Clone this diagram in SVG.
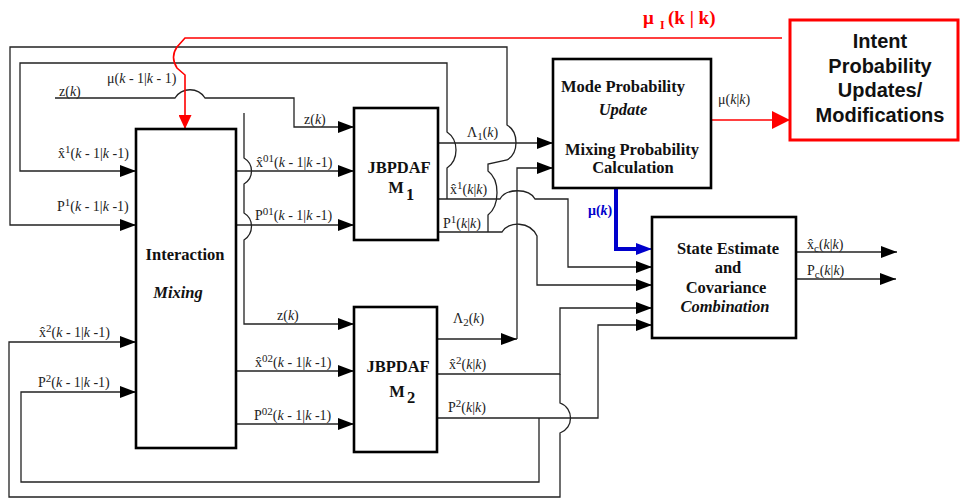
<svg xmlns="http://www.w3.org/2000/svg" width="960" height="498" viewBox="0 0 960 498">
<style>
.box{fill:#fff;stroke:#000;stroke-width:2.6}
.w{fill:none;stroke:#222;stroke-width:1.3}
.a{marker-end:url(#ab)}
.red{fill:none;stroke:#f00;stroke-width:1.6}
.blue{fill:none;stroke:#0000cc;stroke-width:4}
.bt{font-family:"Liberation Serif","Times New Roman",serif;font-weight:bold;font-size:16.5px;fill:#111;text-anchor:middle}
.lb{font-family:"Liberation Serif","Times New Roman",serif;font-size:14px;fill:#222}
.i{font-style:italic}
.it{font-family:"Liberation Sans",Arial,sans-serif;font-weight:bold;font-size:20px;fill:#111;text-anchor:middle}
.rt{font-family:"Liberation Serif","Times New Roman",serif;font-weight:bold;fill:#f00}
</style>
<defs>
<marker id="ab" markerUnits="userSpaceOnUse" markerWidth="16" markerHeight="12" refX="16" refY="6" orient="auto"><path d="M0,0 L16,6 L0,12 Z" fill="#000"/></marker>
<marker id="ar" markerUnits="userSpaceOnUse" markerWidth="18" markerHeight="18" refX="18" refY="9" orient="auto"><path d="M0,0 L18,9 L0,18 Z" fill="#f00"/></marker>
<marker id="ar2" markerUnits="userSpaceOnUse" markerWidth="14" markerHeight="13" refX="14" refY="6.5" orient="auto"><path d="M0,0 L14,6.5 L0,13 Z" fill="#f00"/></marker>
<marker id="abl" markerUnits="userSpaceOnUse" markerWidth="16" markerHeight="12" refX="16" refY="6" orient="auto"><path d="M0,0 L16,6 L0,12 Z" fill="#0000cc"/></marker>
</defs>

<g id="connectors">
<path class="w a" d="M488,232 V215 C500,205 500,180 488,171 V164 L507,160 C519,153 519,132 507,125 V47 H10 V225 H136"/>
<path class="w a" d="M447,199 V168 C459,160 459,140 447,132 V63 H20 V171 H136"/>
<path class="w a" d="M55,98 H175 C182,87 198,87 205,98 H294 V127 H354"/>
<path class="w a" d="M244,113 V158 C254,164 254,178 244,184 V213 C254,219 254,233 244,240 V324 H354"/>
<path class="w a" d="M237,171 H354"/>
<path class="w a" d="M237,225 H354"/>
<path class="w a" d="M237,371 H354"/>
<path class="w a" d="M237,424 H354"/>
<path class="w a" d="M438,143 H553"/>
<path class="w a" d="M438,339 H517"/>
<path class="w a" d="M517,339 V168 H553"/>
<path class="w a" d="M438,199 H500 C506,188 529,188 535,199 H568 V267 H652"/>
<path class="w a" d="M438,232 H502 C508,221 530,221 537,236 V285 H652"/>
<path class="w a" d="M438,374 H560 V308 H652"/>
<path class="w a" d="M560,374 V403 C574,408 574,428 560,433 V497 H9 V342 H136"/>
<path class="w a" d="M438,418 H598 V325 H652"/>
<path class="w a" d="M539,418 V482 H21 V392 H136"/>
<path class="w a" d="M796,252 H897"/>
<path class="w a" d="M796,279 H896"/>
<path class="blue" d="M616,188 V249 H640" />
<path fill="none" stroke="#0000cc" stroke-width="1.5" d="M640,249 H652" marker-end="url(#abl)"/>
<path class="red" d="M782,38 H185 L177,47 Q170,57 177,68 L185,75 V129" marker-end="url(#ar2)"/>
<path class="red" stroke-width="2.2" d="M711,120 H790" marker-end="url(#ar)"/>
</g>

<g id="interaction">
<rect class="box" x="136" y="129" width="100" height="319"/>
<text class="bt" x="185" y="260">Interaction</text>
<text class="bt i" x="178" y="298">Mixing</text>
</g>

<g id="jbpdaf1">
<rect class="box" x="354" y="108" width="84" height="132"/>
<text class="bt" x="399" y="173" font-size="17">JBPDAF</text>
<text class="bt" x="396" y="193" font-size="17">M</text>
<text class="bt" x="410" y="200" font-size="17">1</text>
</g>

<g id="jbpdaf2">
<rect class="box" x="354" y="307" width="83" height="145"/>
<text class="bt" x="398" y="372" font-size="17">JBPDAF</text>
<text class="bt" x="397" y="397" font-size="17">M</text>
<text class="bt" x="411" y="403" font-size="17">2</text>
</g>

<g id="modeprob">
<rect class="box" x="553" y="59" width="158" height="129"/>
<text class="bt" x="623" y="92">Mode Probability</text>
<text class="bt i" x="623" y="115">Update</text>
<text class="bt" x="632" y="155">Mixing Probability</text>
<text class="bt" x="633" y="173">Calculation</text>
</g>

<g id="stateest">
<rect class="box" x="652" y="217" width="144" height="121"/>
<text class="bt" x="728" y="254">State Estimate</text>
<text class="bt" x="728" y="273">and</text>
<text class="bt" x="726" y="293">Covariance</text>
<text class="bt i" x="725" y="312">Combination</text>
</g>

<g id="intent">
<rect x="790" y="20" width="168" height="120" fill="#fff" stroke="#f00" stroke-width="3"/>
<text class="it" x="880" y="48">Intent</text>
<text class="it" x="880" y="73">Probability</text>
<text class="it" x="880" y="97">Updates/</text>
<text class="it" x="880" y="122">Modifications</text>
</g>

<g id="labels">
<text class="rt" x="643" y="24" font-size="19">μ</text>
<text class="rt" x="660" y="29" font-size="12">I</text>
<text class="rt" x="668" y="24" font-size="19">(k | k)</text>

<text class="lb" x="107" y="83">μ(<tspan class="i">k</tspan> - 1|<tspan class="i">k</tspan> - 1)</text>
<text class="lb" x="59" y="96">z(<tspan class="i">k</tspan>)</text>
<text class="lb" x="58" y="158">x̂<tspan dy="-5" font-size="11">1</tspan><tspan dy="5">(</tspan><tspan class="i">k</tspan> - 1|<tspan class="i">k</tspan> -1)</text>
<text class="lb" x="57" y="211">P<tspan dy="-5" font-size="11">1</tspan><tspan dy="5">(</tspan><tspan class="i">k</tspan> - 1|<tspan class="i">k</tspan> -1)</text>
<text class="lb" x="39" y="337">x̂<tspan dy="-5" font-size="11">2</tspan><tspan dy="5">(</tspan><tspan class="i">k</tspan> - 1|<tspan class="i">k</tspan> -1)</text>
<text class="lb" x="38" y="387">P<tspan dy="-5" font-size="11">2</tspan><tspan dy="5">(</tspan><tspan class="i">k</tspan> - 1|<tspan class="i">k</tspan> -1)</text>
<text class="lb" x="304" y="124">z(<tspan class="i">k</tspan>)</text>
<text class="lb" x="256" y="167">x̂<tspan dy="-5" font-size="11">01</tspan><tspan dy="5">(</tspan><tspan class="i">k</tspan> - 1|<tspan class="i">k</tspan> -1)</text>
<text class="lb" x="255" y="220">P<tspan dy="-5" font-size="11">01</tspan><tspan dy="5">(</tspan><tspan class="i">k</tspan> - 1|<tspan class="i">k</tspan> -1)</text>
<text class="lb" x="277" y="320">z(<tspan class="i">k</tspan>)</text>
<text class="lb" x="255" y="367">x̂<tspan dy="-5" font-size="11">02</tspan><tspan dy="5">(</tspan><tspan class="i">k</tspan> - 1|<tspan class="i">k</tspan> -1)</text>
<text class="lb" x="254" y="420">P<tspan dy="-5" font-size="11">02</tspan><tspan dy="5">(</tspan><tspan class="i">k</tspan> - 1|<tspan class="i">k</tspan> -1)</text>
<text class="lb" x="467" y="137">Λ<tspan dy="3" font-size="11">1</tspan><tspan dy="-3">(</tspan><tspan class="i">k</tspan>)</text>
<text class="lb" x="450" y="194">x̂<tspan dy="-5" font-size="11">1</tspan><tspan dy="5">(</tspan><tspan class="i">k</tspan>|<tspan class="i">k</tspan>)</text>
<text class="lb" x="443" y="228">P<tspan dy="-5" font-size="11">1</tspan><tspan dy="5">(</tspan><tspan class="i">k</tspan>|<tspan class="i">k</tspan>)</text>
<text class="lb" x="453" y="323">Λ<tspan dy="3" font-size="11">2</tspan><tspan dy="-3">(</tspan><tspan class="i">k</tspan>)</text>
<text class="lb" x="449" y="369">x̂<tspan dy="-5" font-size="11">2</tspan><tspan dy="5">(</tspan><tspan class="i">k</tspan>|<tspan class="i">k</tspan>)</text>
<text class="lb" x="448" y="412">P<tspan dy="-5" font-size="11">2</tspan><tspan dy="5">(</tspan><tspan class="i">k</tspan>|<tspan class="i">k</tspan>)</text>
<text class="lb" x="807" y="249">x̂<tspan dy="3" font-size="11">c</tspan><tspan dy="-3">(</tspan><tspan class="i">k</tspan>|<tspan class="i">k</tspan>)</text>
<text class="lb" x="807" y="275">P<tspan dy="3" font-size="11">c</tspan><tspan dy="-3">(</tspan><tspan class="i">k</tspan>|<tspan class="i">k</tspan>)</text>
<text class="lb" x="718" y="104">μ(<tspan class="i">k</tspan>|<tspan class="i">k</tspan>)</text>
<text x="588" y="215" font-family="Liberation Serif,serif" font-weight="bold" font-size="14" fill="#0000cc">μ(<tspan font-style="italic">k</tspan>)</text>
</g>
</svg>
